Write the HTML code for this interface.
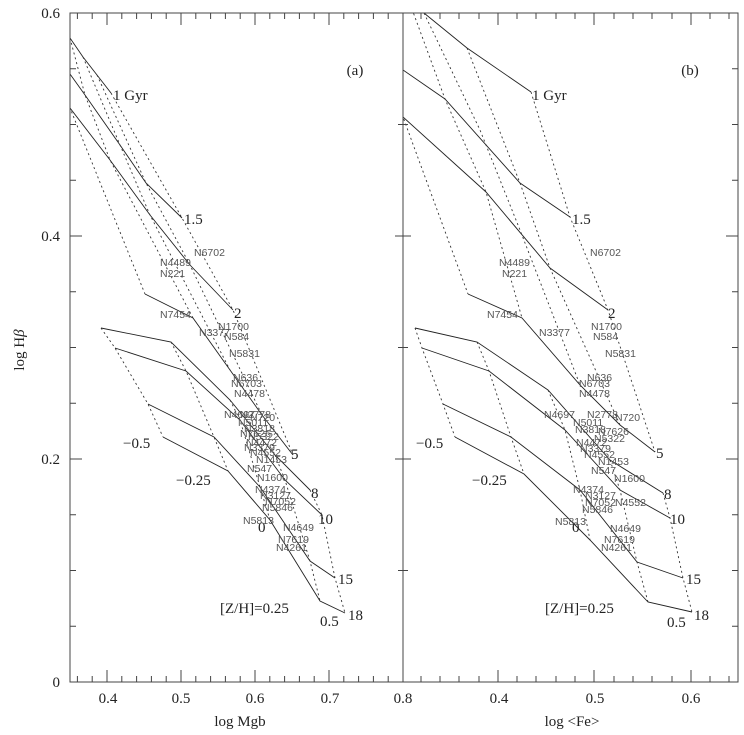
<!DOCTYPE html>
<html><head><meta charset="utf-8"><style>
body{margin:0;background:#fff}
svg{display:block}
.g{font-family:"Liberation Sans",sans-serif;font-size:10.5px;fill:#555}
.s{font-family:"Liberation Serif",serif;font-size:15px;fill:#222}
</style></head><body>
<svg width="744" height="735" viewBox="0 0 744 735" xmlns="http://www.w3.org/2000/svg">
<defs>
<clipPath id="ca"><rect x="70" y="13" width="333" height="669"/></clipPath>
<clipPath id="cb"><rect x="403" y="13" width="335" height="669"/></clipPath>
</defs>
<g fill="none" stroke="#222" stroke-width="0.9" clip-path="url(#ca)">
<polyline points="56,18 70,38 83,57 97,75 111,93"/>
<polyline points="60,60 85,95 120,145 146,183 182,218"/>
<polyline points="70,108 110,160 150,215 190,265 233,310"/>
<polyline points="145,294 193,318 230,370 262,415 293,455"/>
<polyline points="101,328 171,342 230,400 275,455 310,490"/>
<polyline points="115,348 186,371 240,420 285,480 322,515"/>
<polyline points="148,404 214,437 260,487 310,561 335,578"/>
<polyline points="163,437 228,471 270,520 320,601 345,613"/>
<g stroke-dasharray="2,3" stroke="#333">
<polyline points="56,18 60,60 70,108 145,294"/>
<polyline points="101,328 115,348 148,404 163,437"/>
<polyline points="70,38 85,95 110,160 193,318"/>
<polyline points="171,342 186,371 214,437 228,471"/>
<polyline points="83,57 120,145 150,215 230,370"/>
<polyline points="230,400 240,420 260,487 270,520"/>
<polyline points="97,75 146,183 190,265 262,415"/>
<polyline points="275,455 285,480 310,561 320,601"/>
<polyline points="111,93 182,218 233,310 293,455"/>
<polyline points="310,490 322,515 335,578 345,613"/>
</g></g>
<g fill="none" stroke="#222" stroke-width="0.9" clip-path="url(#cb)">
<polyline points="405,-10 424,13 467,48 531,92"/>
<polyline points="403,70 445,99 520,183 570,217"/>
<polyline points="403,117 486,192 550,268 608,310"/>
<polyline points="468,294 522,318 580,385 620,425 655,452"/>
<polyline points="415,328 477,342 548,390 610,460 663,493"/>
<polyline points="422,348 489,371 565,430 620,490 670,518"/>
<polyline points="443,404 511,437 580,490 637,562 683,578"/>
<polyline points="455,437 524,474 590,540 648,602 692,612"/>
<g stroke-dasharray="2,3" stroke="#333">
<polyline points="395,30 403,70 403,117 468,294"/>
<polyline points="415,328 422,348 443,404 455,437"/>
<polyline points="405,-10 445,99 486,192 522,318"/>
<polyline points="477,342 489,371 511,437 524,474"/>
<polyline points="424,13 480,130 520,230 580,385"/>
<polyline points="548,390 565,430 580,490 590,540"/>
<polyline points="467,48 520,183 550,268 620,425"/>
<polyline points="610,460 620,490 637,562 648,602"/>
<polyline points="531,92 570,217 608,310 655,452"/>
<polyline points="663,493 670,518 683,578 692,612"/>
</g></g>
<g stroke="#444" stroke-width="1" fill="none">
<rect x="70" y="13" width="668" height="669"/>
<line x1="403" y1="13" x2="403" y2="682"/>
</g>
<g stroke="#444" stroke-width="1">
<path d="M70,13h12M70,236h12M70,459h12M70,68.8h6M70,124.5h6M70,180.3h6M70,291.8h6M70,347.5h6M70,403.3h6M70,514.8h6M70,570.5h6M70,626.3h6"/>
<path d="M738,13h-12M738,236h-12M738,459h-12M738,68.8h-6M738,124.5h-6M738,180.3h-6M738,291.8h-6M738,347.5h-6M738,403.3h-6M738,514.8h-6M738,570.5h-6M738,626.3h-6"/>
<path d="M403,236h-8M403,459h-8M403,124.5h-5M403,347.5h-5M403,570.5h-5M403,236h8M403,459h8M403,124.5h5M403,347.5h5M403,570.5h5"/>
<path d="M107,682v-12M181,682v-12M255,682v-12M329,682v-12M107,13v12M181,13v12M255,13v12M329,13v12
M77.4,682v-6M92.2,682v-6M121.8,682v-6M136.6,682v-6M151.4,682v-6M166.2,682v-6M195.8,682v-6M210.6,682v-6M225.4,682v-6M240.2,682v-6M269.8,682v-6M284.6,682v-6M299.4,682v-6M314.2,682v-6M343.8,682v-6M358.6,682v-6M373.4,682v-6M388.2,682v-6
M77.4,13v6M92.2,13v6M121.8,13v6M136.6,13v6M151.4,13v6M166.2,13v6M195.8,13v6M210.6,13v6M225.4,13v6M240.2,13v6M269.8,13v6M284.6,13v6M299.4,13v6M314.2,13v6M343.8,13v6M358.6,13v6M373.4,13v6M388.2,13v6"/>
<path d="M498,682v-12M594,682v-12M691,682v-12M498,13v12M594,13v12M691,13v12
M421,682v-6M440,682v-6M459,682v-6M479,682v-6M517,682v-6M536,682v-6M556,682v-6M575,682v-6M614,682v-6M633,682v-6M652,682v-6M672,682v-6M710,682v-6M729,682v-6
M421,13v6M440,13v6M459,13v6M479,13v6M517,13v6M536,13v6M556,13v6M575,13v6M614,13v6M633,13v6M652,13v6M672,13v6M710,13v6M729,13v6"/>
</g>
<g class="s" text-anchor="end">
<text x="60" y="18">0.6</text><text x="60" y="241">0.4</text><text x="60" y="464">0.2</text><text x="60" y="687">0</text>
</g>
<g class="s" text-anchor="middle">
<text x="108" y="703">0.4</text><text x="181" y="703">0.5</text><text x="255" y="703">0.6</text><text x="330" y="703">0.7</text><text x="403" y="703">0.8</text>
<text x="499" y="703">0.4</text><text x="595" y="703">0.5</text><text x="691" y="703">0.6</text>
<text x="240" y="726">log Mgb</text><text x="572" y="726">log &lt;Fe&gt;</text>
<text x="355" y="75">(a)</text><text x="690" y="75">(b)</text>
</g>
<text class="s" transform="translate(24,350) rotate(-90)" text-anchor="middle">log H<tspan font-style="italic">β</tspan></text>
<g class="s">
<text x="113" y="100">1 Gyr</text><text x="184" y="224">1.5</text><text x="234" y="318">2</text>
<text x="291" y="459">5</text><text x="311" y="498">8</text><text x="318" y="524">10</text><text x="338" y="584">15</text><text x="348" y="620">18</text>
<text x="123" y="448">−0.5</text><text x="176" y="485">−0.25</text><text x="258" y="532">0</text>
<text x="220" y="613">[Z/H]=0.25</text><text x="320" y="626">0.5</text>
<text x="532" y="100">1 Gyr</text><text x="572" y="224">1.5</text><text x="608" y="318">2</text>
<text x="656" y="458">5</text><text x="664" y="499">8</text><text x="670" y="524">10</text><text x="686" y="584">15</text><text x="694" y="620">18</text>
<text x="416" y="448">−0.5</text><text x="472" y="485">−0.25</text><text x="572" y="532">0</text>
<text x="545" y="613">[Z/H]=0.25</text><text x="667" y="627">0.5</text>
</g>
<g class="g">
<text x="194" y="256">N6702</text><text x="160" y="266">N4489</text><text x="160" y="277">N221</text>
<text x="160" y="318">N7454</text><text x="199" y="336">N3377</text><text x="218" y="330">N1700</text><text x="224" y="340">N584</text>
<text x="229" y="357">N5831</text><text x="233" y="381">N636</text><text x="231" y="387">N6703</text><text x="234" y="397">N4478</text>
<text x="224" y="418">N4697</text><text x="240" y="418">N2778</text><text x="250" y="421">N720</text>
<text x="238" y="426">N5011</text><text x="244" y="432">N3818</text><text x="240" y="437">N7626</text><text x="248" y="440">N5322</text>
<text x="246" y="446">N4472</text><text x="244" y="451">N3379</text><text x="250" y="456">N4552</text><text x="256" y="463">N1453</text>
<text x="247" y="472">N547</text><text x="257" y="481">N1600</text><text x="255" y="493">N4374</text><text x="260" y="499">N3127</text>
<text x="265" y="505">N7052</text><text x="262" y="511">N5846</text><text x="243" y="524">N5813</text><text x="283" y="531">N4649</text>
<text x="278" y="543">N7619</text><text x="276" y="551">N4261</text>
<text x="590" y="256">N6702</text><text x="499" y="266">N4489</text><text x="502" y="277">N221</text>
<text x="487" y="318">N7454</text><text x="539" y="336">N3377</text><text x="591" y="330">N1700</text><text x="593" y="340">N584</text>
<text x="605" y="357">N5831</text><text x="587" y="381">N636</text><text x="579" y="387">N6703</text><text x="579" y="397">N4478</text>
<text x="544" y="418">N4697</text><text x="587" y="418">N2778</text><text x="615" y="421">N720</text>
<text x="573" y="426">N5011</text><text x="575" y="433">N3818</text><text x="598" y="435">N7626</text><text x="594" y="442">N5322</text>
<text x="576" y="446">N4472</text><text x="580" y="452">N3379</text><text x="584" y="458">N4552</text><text x="598" y="465">N1453</text>
<text x="591" y="474">N547</text><text x="614" y="482">N1600</text><text x="573" y="493">N4374</text><text x="585" y="499">N3127</text>
<text x="585" y="506">N7052</text><text x="615" y="506">N4552</text><text x="582" y="513">N5846</text><text x="555" y="525">N5813</text><text x="610" y="532">N4649</text>
<text x="604" y="543">N7619</text><text x="601" y="551">N4261</text>
</g>
</svg>
</body></html>
